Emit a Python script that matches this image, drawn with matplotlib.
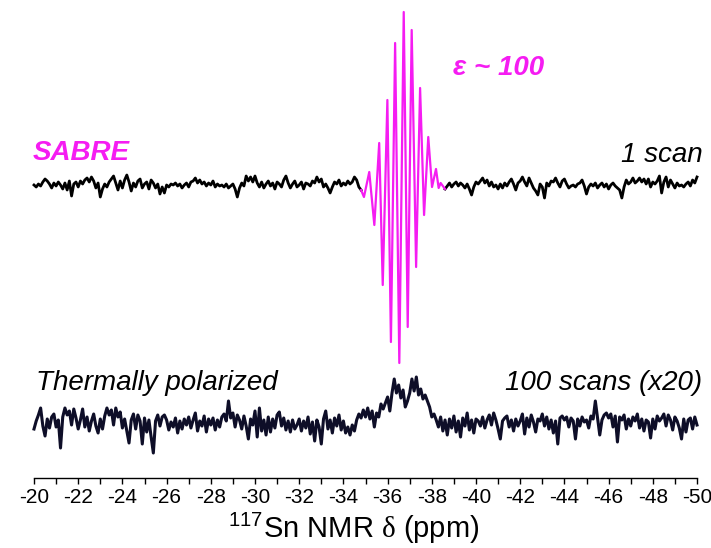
import numpy as np
import matplotlib
matplotlib.use("Agg")
import matplotlib.pyplot as plt
from matplotlib.ticker import MultipleLocator

plt.rcParams['font.family'] = ['Liberation Sans', 'DejaVu Sans']
plt.rcParams['mathtext.fontset'] = 'custom'
plt.rcParams['mathtext.rm'] = 'Liberation Sans'
plt.rcParams['mathtext.sf'] = 'Liberation Serif'

# SABRE spectrum (1 scan): black noise either side of the hyperpolarised multiplet
sabre_left = [0, -2, 1, -1, 3, 6, 4, 1, -3, 2,
              -1, 3, 0, -4, 2, -5, 4, -11, 1, 3,
              -2, 4, 1, 5, 7, 3, 8, 4, -3, 2,
              -12, -4, 1, -2, 3, 6, 9, 2, -5, 4,
              -3, 5, 10, 3, -6, 2, -2, 4, 6, -3,
              1, 3, -4, 5, 2, -3, 1, -9, -2, -8,
              0, -2, 1, 0, 2, -1, 1, -3, 0, 2,
              -2, 3, 4, 7, 2, 5, 1, 3, -1, 2,
              0, 4, -2, 1, -1, 0, -2, 1, -3, -1,
              1, -4, -12, -3, 2, -1, 9, 4, 8, 3,
              9, 2, -2, 3, -3, 1, 4, -1, 2, -4,
              3, 1, -2, 5, 9, 2, -3, 1, 4, -2,
              0, 3, -4, 2, 1, -1, 4, 2, 8, 3,
              6, -2, 1, -3, -8, -2, 3, 1, 5, -1,
              2, 0, 4, 1, 3, 8, 5, -2, -5]
sabre_right = [-4, -1, 2, -2, 1, 3, -1, 2, 0, -3,
               1, -4, -10, -2, 3, 1, 4, 7, 2, 5,
               -1, 3, -2, 0, -4, 1, -3, 2, -1, 3,
               6, 1, -5, 2, 4, 8, 3, -1, 7, 2,
               -3, -6, -10, 1, -2, -13, 2, -1, 4, 3,
               7, 2, -2, 4, 6, 1, -3, -1, 0, -2,
               1, 2, 5, -1, -9, -2, 1, -1, 2, -3,
               0, 2, -2, 1, -4, 0, 2, -1, -3, -5,
               -13, -2, 5, 1, 3, 7, 2, 4, 7, 3,
               6, 1, 6, -2, 3, 1, 4, 9, -8, 3,
               8, -2, 5, 1, -3, 2, -1, 0, -2, 1,
               3, -1, 5, 2, 8]
sabre_peak_ppm = [-34.80, -34.93, -35.17, -35.40, -35.62, -35.78, -35.99, -36.15,
                  -36.34, -36.53, -36.73, -36.91, -37.09, -37.29, -37.47, -37.65,
                  -37.84, -38.01, -38.19, -38.31, -38.40, -38.60]
sabre_peak = [-5, -12, 13, -40, 42, -100, 85, -157, 142, -178, 173, -142,
              155, -82, 97, -30, 48, -2, 16, -3, 2, -4]

# thermally polarised spectrum (100 scans, x20), -20 to -50 ppm
thermal = [-6, 2, 8, 15, -3, -13, 4, -5, 6, 9,
           -4, 3, -25, 6, 15, 8, 12, -2, 14, 5,
           -6, 3, 14, -4, 6, -8, 2, 9, -3, -10,
           4, -6, 7, 15, 8, 13, -2, 15, 6, 11,
           -5, 4, -8, -20, 3, 9, -6, 8, 2, -21,
           5, -9, 3, -14, -30, 2, 8, -3, 6, 8,
           3, -7, 1, -4, 5, -10, 2, -6, 4, -2,
           6, -5, 3, 10, -8, 2, -3, 7, -9, 4,
           -2, 5, -7, 3, -4, 6, 9, 2, 22, 5,
           10, -4, 8, 3, -6, 7, -3, -16, 4, -2,
           12, -14, 15, -8, 3, -12, 6, -9, 4, -5,
           8, 11, -3, 5, -7, 2, -9, 3, -6, -2,
           4, -8, 2, -5, 6, -11, 1, -18, 3, -4,
           -21, 4, 12, -6, 3, -10, 5, -3, 8, -7,
           2, -10, -4, -12, -2, -8, 3, 9, 5, 13,
           6, 15, 4, 12, -4, 10, 6, 19, 14, 20,
           26, 12, 30, 44, 30, 38, 25, 33, 16, 22,
           30, 44, 32, 46, 28, 34, 24, 28, 22, 16,
           6, 9, 3, -4, 6, -8, 3, -12, 4, -5,
           7, -9, 2, -14, 5, -3, 10, -7, 3, -10,
           4, 2, -3, 6, -5, 3, 8, -2, 10, 3,
           -6, -16, 2, 5, 7, -4, 3, -8, 4, -3,
           2, 9, -11, 5, -4, 8, 1, -9, 4, 2,
           9, -3, 6, -6, 3, -10, 2, -21, 5, 7,
           3, 6, -4, 5, 2, -16, 4, -3, 6, 1,
           3, -5, 7, 4, 22, 5, -12, 3, 8, 10,
           5, 9, -4, 7, -19, 6, 3, 8, -6, 4,
           -3, 6, 2, 9, -5, 4, -8, 3, 1, -15,
           4, -6, 7, 2, 5, 9, -3, 8, 3, -7,
           6, 2, -5, -16, 4, -9, 3, 5, -6, 6,
           -2]

# ppm grids (0.1 ppm digital resolution)
ppm_left = np.linspace(-20.0, -34.8, len(sabre_left))
ppm_right = np.linspace(-38.6, -50.0, len(sabre_right))
ppm_thermal = np.linspace(-20.0, -50.0, len(thermal))

top_offset = 293
bottom_offset = 55
magenta = '#f51cf2'

fig = plt.figure(figsize=(7.11, 5.48), dpi=100)
ax = fig.add_axes([34 / 711, 70 / 548, 663 / 711, 478 / 548])

ax.plot(ppm_left, np.array(sabre_left) + top_offset, color='black', lw=2.0, clip_on=False)
ax.plot(ppm_right, np.array(sabre_right) + top_offset, color='black', lw=2.0, clip_on=False)
ax.plot(sabre_peak_ppm, np.array(sabre_peak) + top_offset, color=magenta, lw=1.6, clip_on=False)
ax.plot(ppm_thermal, np.array(thermal) + bottom_offset, color='#0e0e28', lw=2.2, clip_on=False)

ax.text(-19.95, 325, 'SABRE', color=magenta, fontsize=20, fontweight='bold',
        style='italic', ha='left', va='center')
ax.text(-50.25, 323, '1 scan', fontsize=20, style='italic', ha='right', va='center')
ax.text(-41.0, 410, 'ε ~ 100', color=magenta, fontsize=20, fontweight='bold',
        style='italic', ha='center', va='center')
ax.text(-20.1, 95, 'Thermally polarized', fontsize=20, style='italic', ha='left', va='center')
ax.text(-50.25, 95, '100 scans (x20)', fontsize=20, style='italic', ha='right', va='center')

ax.set_xlim(-20, -50)
ax.set_ylim(0, 478)
for side in ['top', 'left', 'right']:
    ax.spines[side].set_visible(False)
ax.spines['bottom'].set_linewidth(1.0)
ax.set_yticks([])
ax.xaxis.set_major_locator(MultipleLocator(2))
ax.xaxis.set_minor_locator(MultipleLocator(1))
ax.tick_params(axis='x', which='both', direction='out', length=4, width=1, labelsize=15, pad=3)
ax.set_xticklabels([f'{int(t)}' for t in ax.get_xticks()])
ax.set_xlabel(r'$^{117}$Sn NMR $\mathsf{\delta}$ (ppm)', fontsize=21)
ax.xaxis.set_label_coords(0.482, -0.068)
ax.patch.set_visible(False)

fig.savefig('out.png', dpi=100)
